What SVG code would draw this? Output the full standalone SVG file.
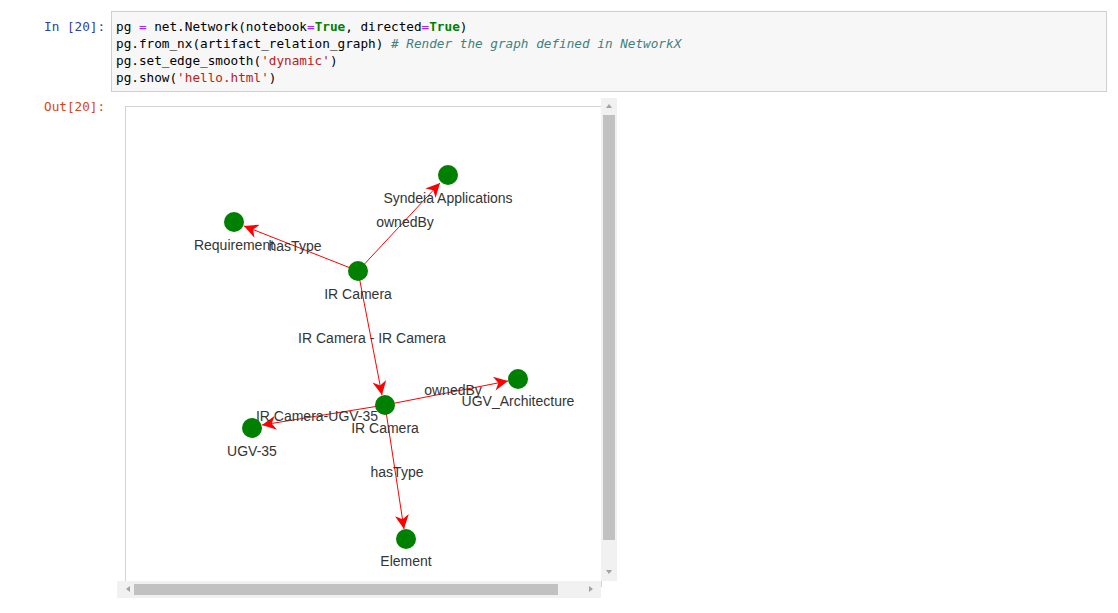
<svg xmlns="http://www.w3.org/2000/svg" width="1118" height="613" viewBox="0 0 1118 613">
<style>
.code{font-family:"DejaVu Sans Mono","Liberation Mono",monospace;font-size:12.7px;fill:#000}
.p{font-family:"DejaVu Sans Mono","Liberation Mono",monospace;font-size:12.7px}
.lbl{font-family:"Liberation Sans",Arial,sans-serif;font-size:14px;fill:#343434;text-anchor:middle}
.node{fill:#008000}
.edge{stroke:#ff0000;stroke-width:1;fill:none}
</style>
<defs>
<marker id="ah" viewBox="0 0 10 10" refX="10" refY="5" markerWidth="19" markerHeight="14" markerUnits="userSpaceOnUse" orient="auto"><path d="M0,0 L10,5 L0,10 L3,5 z" fill="#ff0000"/></marker>
</defs>
<rect width="1118" height="613" fill="#fff"/>
<text class="p" x="44" y="31" fill="#303f9f">In [20]:</text>
<rect x="111.5" y="11.5" width="995" height="80" fill="#f7f7f7" stroke="#cfcfcf"/>
<text class="code" x="116" y="31">pg <tspan fill="#aa22ff">=</tspan> net.Network(notebook<tspan fill="#aa22ff">=</tspan><tspan fill="#008000" font-weight="bold">True</tspan>, directed<tspan fill="#aa22ff">=</tspan><tspan fill="#008000" font-weight="bold">True</tspan>)</text>
<text class="code" x="116" y="48">pg.from_nx(artifact_relation_graph) <tspan fill="#408080" font-style="italic"># Render the graph defined in NetworkX</tspan></text>
<text class="code" x="116" y="65">pg.set_edge_smooth(<tspan fill="#ba2121">'dynamic'</tspan>)</text>
<text class="code" x="116" y="82">pg.show(<tspan fill="#ba2121">'hello.html'</tspan>)</text>
<text class="p" x="44" y="111" fill="#d84315">Out[20]:</text>
<rect x="125.5" y="106.5" width="476" height="480" fill="#fff" stroke="#d3d3d3"/>
<rect x="601" y="98" width="16" height="483" fill="#f1f1f1"/>
<rect x="603" y="115" width="12" height="425" fill="#c1c1c1"/>
<path d="M606,108 l3,-4 l3,4z M606,570 l3,4 l3,-4z" fill="#a3a3a3"/>
<rect x="117" y="581" width="484" height="17" fill="#f1f1f1"/>
<rect x="134" y="584" width="424" height="11" fill="#c1c1c1"/>
<path d="M126,589 l4,-3 v6z M593,589 l-4,-3 v6z" fill="#a3a3a3"/>
<g id="connectors">
<line class="edge" x1="358" y1="271" x2="440" y2="183" marker-end="url(#ah)"/>
<line class="edge" x1="358" y1="271" x2="244" y2="226" marker-end="url(#ah)"/>
<line class="edge" x1="358" y1="271" x2="382" y2="395" marker-end="url(#ah)"/>
<line class="edge" x1="385" y1="405" x2="508" y2="381" marker-end="url(#ah)"/>
<line class="edge" x1="385" y1="405" x2="262" y2="425" marker-end="url(#ah)"/>
<line class="edge" x1="385" y1="405" x2="404" y2="529" marker-end="url(#ah)"/>
<text class="lbl" x="405" y="227">ownedBy</text>
<text class="lbl" x="295" y="251">hasType</text>
<text class="lbl" x="372" y="343">IR Camera - IR Camera</text>
<text class="lbl" x="453" y="395">ownedBy</text>
<text class="lbl" x="317" y="421">IR Camera-UGV-35</text>
<text class="lbl" x="397" y="477">hasType</text>
</g>
<g id="n-syndeia"><circle class="node" cx="448" cy="175" r="10"/><text class="lbl" x="448" y="203">Syndeia Applications</text></g>
<g id="n-req"><circle class="node" cx="234" cy="222" r="10"/><text class="lbl" x="234" y="250">Requirement</text></g>
<g id="n-ir1"><circle class="node" cx="358" cy="271" r="10"/><text class="lbl" x="358" y="299">IR Camera</text></g>
<g id="n-ir2"><circle class="node" cx="385" cy="405" r="10"/><text class="lbl" x="385" y="433">IR Camera</text></g>
<g id="n-ugvarch"><circle class="node" cx="518" cy="379" r="10"/><text class="lbl" x="518" y="406">UGV_Architecture</text></g>
<g id="n-ugv35"><circle class="node" cx="252" cy="428" r="10"/><text class="lbl" x="252" y="456">UGV-35</text></g>
<g id="n-element"><circle class="node" cx="406" cy="539" r="10"/><text class="lbl" x="406" y="566">Element</text></g>
</svg>
